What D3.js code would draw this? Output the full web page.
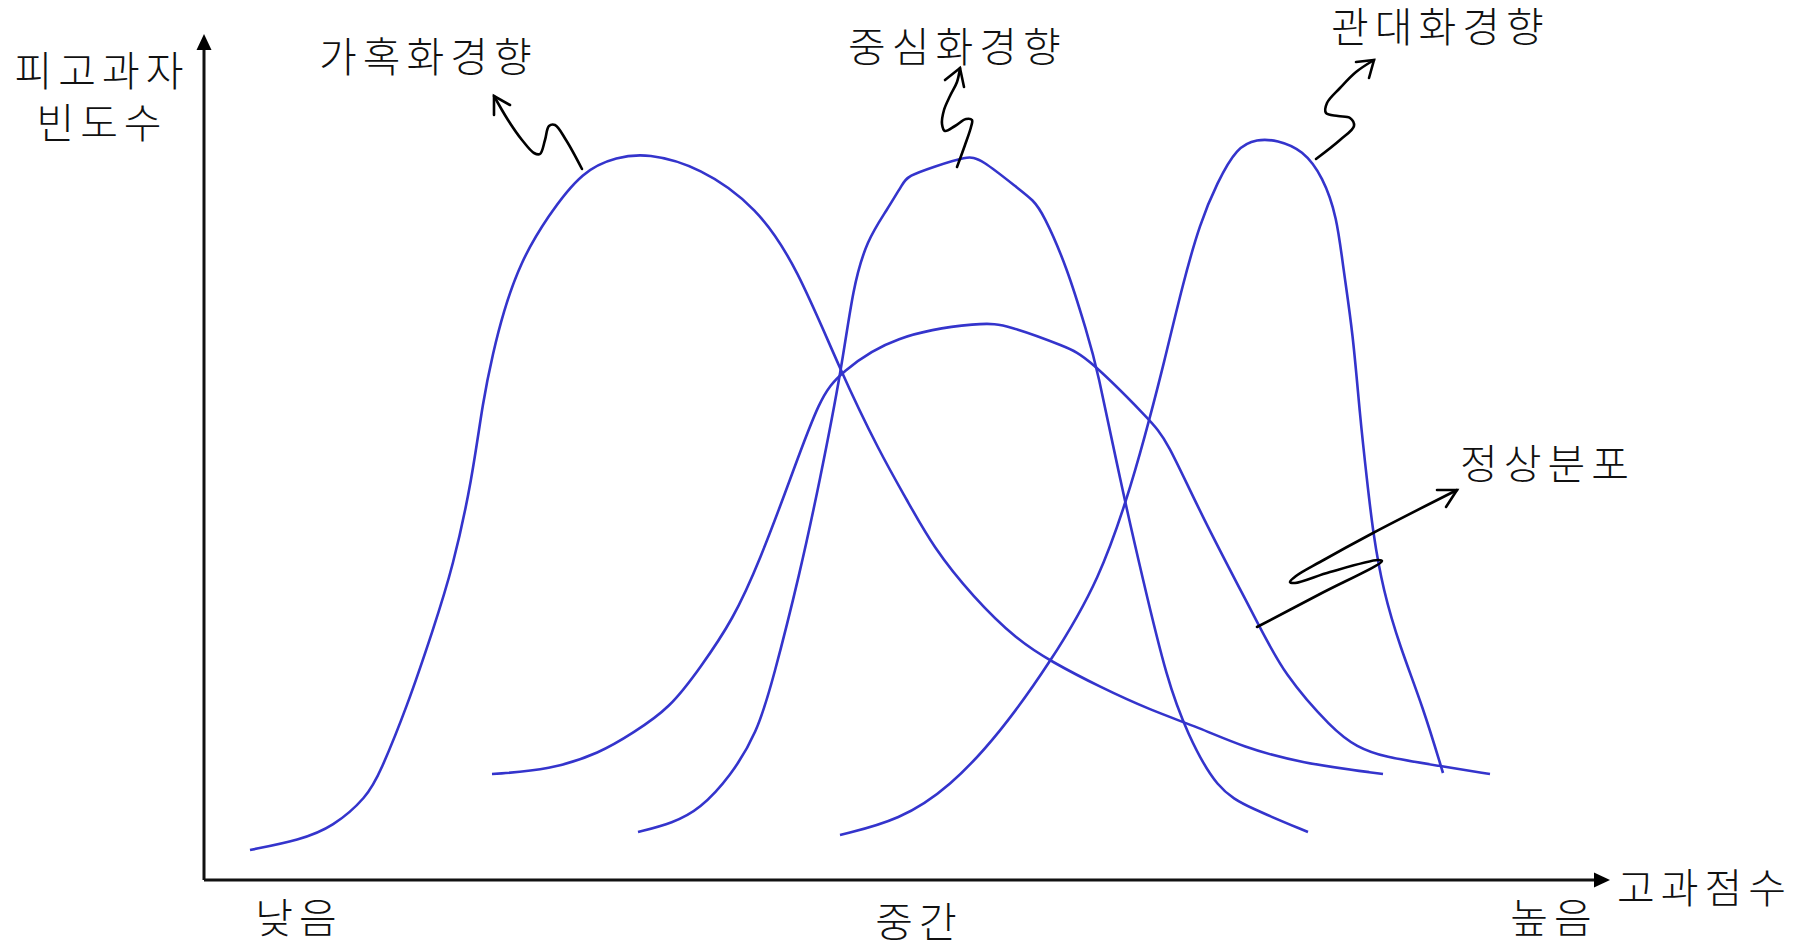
<!DOCTYPE html>
<html>
<head>
<meta charset="utf-8">
<script src="https://cdn.jsdelivr.net/npm/d3@7"></script>
<style>
  html, body { margin: 0; padding: 0; background: #fff; }
  text { font-family: "Noto Sans CJK KR", "Noto Sans", sans-serif; font-weight: 300; fill: #111; letter-spacing: 6px; }
</style>
</head>
<body>
<div id="chart"></div>
<script>
// chart size
const width = 1796;
const height = 945;

// x = 고과점수, y = 피고과자 빈도수 (arbitrary units)
const harshCurve = [
  [4.6, 3.0], [9.6, 4.0], [12.9, 5.3], [16.3, 8.3], [17.6, 10.7], [20.3, 17.3],
  [22.9, 25.0], [24.9, 31.3], [26.8, 40.0], [27.9, 48.0], [28.9, 52.7], [29.9, 56.7],
  [31.6, 61.7], [34.3, 66.3], [37.9, 71.0], [41.3, 72.3], [44.3, 72.7], [49.6, 71.3],
  [55.3, 67.3], [59.3, 61.3], [63.6, 51.0], [67.6, 42.7], [70.3, 38.0], [72.9, 33.3],
  [76.9, 28.3], [81.3, 24.0], [84.8, 21.8], [89.6, 19.3], [94.6, 17.0], [99.6, 15.2],
  [103.9, 13.3], [109.6, 11.7], [117.9, 10.6]
];
const normalCurve = [
  [28.8, 10.6], [34.6, 11.0], [39.6, 12.7], [42.9, 14.7], [46.6, 17.2], [49.6, 21.2],
  [52.9, 26.0], [55.6, 32.0], [58.6, 40.0], [61.6, 48.3], [63.6, 50.7], [68.9, 54.5],
  [77.9, 55.8], [80.3, 55.5], [86.3, 53.3], [88.3, 52.3], [94.6, 46.0], [96.3, 44.0],
  [99.6, 36.7], [105.6, 25.3], [107.9, 20.7], [112.9, 15.0], [115.3, 13.3], [117.9, 12.3],
  [123.6, 11.4], [128.6, 10.6]
];
const centralCurve = [
  [43.4, 4.8], [46.9, 5.7], [49.6, 7.1], [52.6, 10.3], [55.3, 14.7], [56.9, 20.0],
  [59.6, 30.7], [61.6, 40.0], [63.8, 51.3], [64.9, 59.3], [66.3, 64.0], [68.3, 67.0],
  [69.9, 69.7], [70.4, 70.4], [72.9, 71.3], [76.3, 72.4], [77.6, 72.2], [81.6, 69.0],
  [82.9, 68.0], [83.9, 66.7], [86.3, 61.3], [88.3, 54.7], [89.3, 51.3], [91.6, 40.0],
  [93.9, 30.0], [96.3, 20.0], [98.3, 14.7], [101.3, 9.0], [104.6, 7.2], [110.4, 4.8]
];
const lenientCurve = [
  [63.6, 4.5], [69.6, 6.0], [74.6, 9.3], [79.6, 14.7], [84.6, 21.7], [89.6, 30.0],
  [92.9, 40.0], [94.6, 46.3], [95.9, 51.3], [97.9, 59.7], [99.6, 65.7], [101.3, 69.7],
  [103.3, 73.3], [105.3, 74.1], [107.3, 74.0], [109.9, 73.0], [111.9, 70.3], [113.3, 66.3],
  [113.9, 61.3], [114.9, 54.7], [115.6, 46.3], [116.3, 40.0], [116.9, 34.7], [117.9, 29.0],
  [119.6, 23.3], [121.9, 17.3], [123.9, 10.7]
];

// x axis tick labels
const tickLabels = ["낮음", "중간", "높음"];
const tickPositions = [9.2, 71.2, 134.7];

// callout labels and their hand-drawn arrows
const labelNames = ["가혹화경향", "중심화경향", "관대화경향", "정상분포"];
const labelPositions = [[11.5, 80.8], [64.4, 81.8], [112.7, 83.8], [125.6, 40.1]];
const arrowPaths = [
  [[37.8, 71.1], [36.2, 74.0], [35.1, 75.5], [34.5, 75.4], [34.1, 74.0], [33.6, 72.6],
   [33.0, 72.7], [31.8, 74.0], [30.4, 76.0], [29.0, 78.4]],
  [[75.3, 71.3], [76.1, 73.5], [76.7, 75.3], [76.8, 76.0], [76.2, 76.1], [75.1, 75.4],
   [74.1, 74.9], [73.8, 75.6], [74.0, 77.0], [74.6, 78.4], [75.3, 79.8], [75.6, 81.2]],
  [[111.2, 72.1], [113.6, 74.0], [115.0, 75.4], [114.6, 76.2], [113.4, 76.4], [112.2, 76.7],
   [112.3, 77.7], [113.6, 79.2], [115.2, 80.8], [117.0, 82.0]],
  [[105.3, 25.3], [111.6, 28.6], [117.8, 31.9], [117.4, 32.0], [112.6, 30.8], [109.1, 29.7],
   [108.6, 29.8], [109.2, 30.4], [111.6, 31.8], [116.9, 34.7], [125.3, 39.0]]
];
// open arrow heads: [wing, tip, wing]
const arrowHeads = [
  [[29.0, 76.5], [29.0, 78.4], [30.6, 77.5]],
  [[74.1, 80.0], [75.6, 81.2], [76.0, 79.3]],
  [[115.2, 81.8], [117.0, 82.0], [116.5, 80.2]],
  [[123.3, 39.0], [125.3, 39.0], [124.2, 37.3]]
];

const svg = d3.select("#chart")
  .append("svg")
  .attr("width", width)
  .attr("height", height);

// scales
const x = d3.scaleLinear().domain([0, 140]).range([204, 1604]);
const y = d3.scaleLinear().domain([0, 80]).range([880, 80]);

// arrow markers for the axes
const defs = svg.append("defs");
defs.append("marker")
  .attr("id", "axis-arrow")
  .attr("viewBox", "0 0 16 16")
  .attr("refX", 1)
  .attr("refY", 8)
  .attr("markerWidth", 16)
  .attr("markerHeight", 16)
  .attr("markerUnits", "userSpaceOnUse")
  .attr("orient", "auto")
  .append("path")
  .attr("d", "M0,0.5 L16,8 L0,15.5 Z")
  .attr("fill", "#000");

// axes
svg.append("line")
  .attr("x1", x(0)).attr("y1", y(0))
  .attr("x2", x(0)).attr("y2", y(83.1))
  .attr("stroke", "#111").attr("stroke-width", 3)
  .attr("marker-end", "url(#axis-arrow)");

svg.append("line")
  .attr("x1", x(0)).attr("y1", y(0))
  .attr("x2", x(139.1)).attr("y2", y(0))
  .attr("stroke", "#111").attr("stroke-width", 3)
  .attr("marker-end", "url(#axis-arrow)");

// distribution curves (smoothed like the hand sketch)
const curveLine = d3.line()
  .x(d => x(d[0]))
  .y(d => y(d[1]))
  .curve(d3.curveBasis);

const curves = [harshCurve, normalCurve, centralCurve, lenientCurve];
svg.selectAll("path.curve")
  .data(curves)
  .enter().append("path")
  .attr("class", "curve")
  .attr("d", curveLine)
  .attr("fill", "none")
  .attr("stroke", "#3434cc")
  .attr("stroke-width", 2.6);

// callout arrows
const arrowLine = d3.line()
  .x(d => x(d[0]))
  .y(d => y(d[1]))
  .curve(d3.curveCatmullRom.alpha(0.5));

svg.selectAll("path.callout")
  .data(arrowPaths)
  .enter().append("path")
  .attr("class", "callout")
  .attr("d", arrowLine)
  .attr("fill", "none")
  .attr("stroke", "#000")
  .attr("stroke-width", 2.6)
  .attr("stroke-linecap", "round");

svg.selectAll("path.head")
  .data(arrowHeads)
  .enter().append("path")
  .attr("class", "head")
  .attr("d", d3.line().x(d => x(d[0])).y(d => y(d[1])))
  .attr("fill", "none")
  .attr("stroke", "#000")
  .attr("stroke-width", 2.6)
  .attr("stroke-linecap", "round")
  .attr("stroke-linejoin", "miter");

// callout labels
svg.selectAll("text.callout-label")
  .data(labelNames)
  .enter().append("text")
  .attr("class", "callout-label")
  .attr("x", (d, i) => x(labelPositions[i][0]))
  .attr("y", (d, i) => y(labelPositions[i][1]))
  .attr("font-size", 41)
  .text(d => d);

// x tick labels (trailing letter-spacing offset by +3)
svg.selectAll("text.tick-label")
  .data(tickLabels)
  .enter().append("text")
  .attr("class", "tick-label")
  .attr("x", (d, i) => x(tickPositions[i]) + 3)
  .attr("y", (d, i) => i === 1 ? 937 : 933)
  .attr("text-anchor", "middle")
  .attr("font-size", 41)
  .text(d => d);

// axis titles
svg.append("text")
  .attr("x", 102).attr("y", 86)
  .attr("text-anchor", "middle")
  .attr("font-size", 41)
  .text("피고과자");
svg.append("text")
  .attr("x", 102).attr("y", 138)
  .attr("text-anchor", "middle")
  .attr("font-size", 41)
  .text("빈도수");
svg.append("text")
  .attr("x", 1617).attr("y", 903)
  .attr("font-size", 41)
  .text("고과점수");
</script>
</body>
</html>
